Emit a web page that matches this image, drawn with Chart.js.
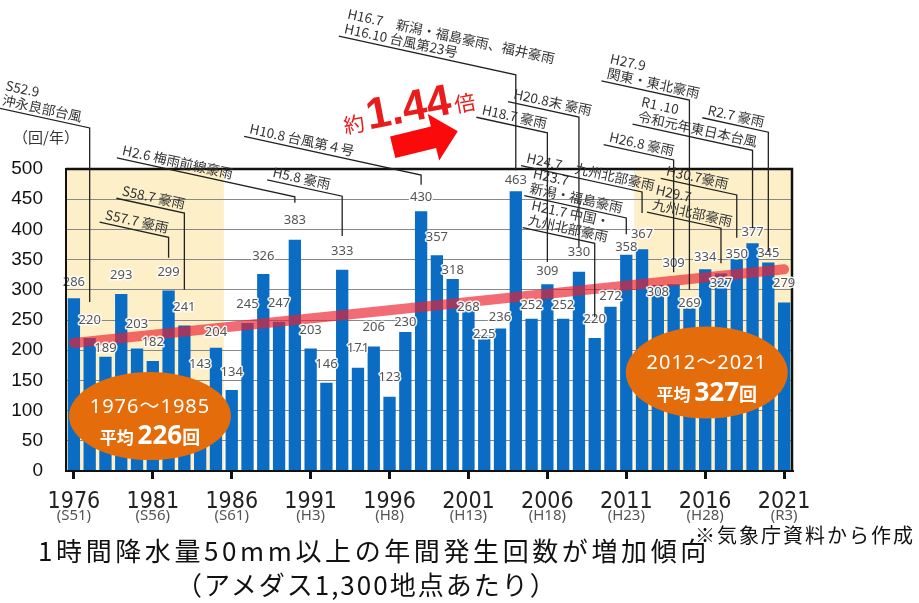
<!DOCTYPE html>
<html>
<head>
<meta charset="utf-8">
<script src="https://cdn.jsdelivr.net/npm/chart.js@4"></script>
<style>
  body { margin: 0; background: #fff; }
  #wrap { position: relative; width: 919px; height: 603px; }
  .txt { position: absolute; font-family: 'Noto Sans CJK JP', sans-serif; color: #111; white-space: nowrap; }
  #title1 { left: 38px; top: 534px; font-size: 26px; line-height: 32px; letter-spacing: 3.6px; }
  #title2 { left: 176px; top: 568px; font-size: 26px; line-height: 32px; letter-spacing: 2px; }
  #source { left: 695px; top: 522px; font-size: 20px; line-height: 26px; letter-spacing: 2px; }
</style>
</head>
<body>
<div id="wrap">
  <canvas id="rainChart"></canvas>
  <div class="txt" id="title1">1時間降水量50mm以上の年間発生回数が増加傾向</div>
  <div class="txt" id="title2">（アメダス1,300地点あたり）</div>
  <div class="txt" id="source">※気象庁資料から作成</div>
</div>
<script>
const years = ['1976', '1977', '1978', '1979', '1980', '1981', '1982', '1983', '1984', '1985',
    '1986', '1987', '1988', '1989', '1990', '1991', '1992', '1993', '1994', '1995',
    '1996', '1997', '1998', '1999', '2000', '2001', '2002', '2003', '2004', '2005',
    '2006', '2007', '2008', '2009', '2010', '2011', '2012', '2013', '2014', '2015',
    '2016', '2017', '2018', '2019', '2020', '2021'];
const eraLabels = ['(S51)', '(S56)', '(S61)', '(H3)', '(H8)', '(H13)', '(H18)', '(H23)', '(H28)', '(R3)'];
const counts = [286, 220, 189, 293, 203, 182, 299, 241, 143, 204,
    134, 245, 326, 247, 383, 203, 146, 333, 171, 206,
    123, 230, 430, 357, 318, 268, 225, 236, 463, 252,
    309, 252, 330, 220, 272, 358, 367, 308, 309, 269,
    334, 327, 350, 377, 345, 279];
const trendEnds = [212, 334];
const averages = [
    { span: '1976～1985', value: '226' },
    { span: '2012～2021', value: '327' }
];

// how far each value label sits above its bar top (px)
const labelLift = [16, 18, 9, 19, 24, 19, 18, 18, 20, 15,
    18, 19, 18, 19, 19, 18, 19, 19, 19, 19,
    19, 10, 14, 18, 9, 2, 1, 11, 11, 13,
    13, 13, 19, 19, 10, 7, 15, -7, 21, 5,
    12, -10, 5, 11, 9, 19];

// event notes: bar index, text lines, leader top / bottom (in y units), underline length
const events = [
    { i: 1, lines: ['S52.9', '沖永良部台風'], top: 568, bottom: 280, dx: 93 },
    { i: 6, lines: ['S57.7 豪雨'], top: 387, bottom: 353, dx: 69 },
    { i: 7, lines: ['S58.7 豪雨'], top: 427, bottom: 300, dx: 68 },
    { i: 14, lines: ['H2.6 梅雨前線豪雨'], top: 454, bottom: 444, dx: 178 },
    { i: 17, lines: ['H5.8 豪雨'], top: 455, bottom: 389, dx: 75 },
    { i: 22, lines: ['H10.8 台風第４号'], top: 490, bottom: 474, dx: 177 },
    { i: 28, lines: ['H16.7　新潟・福島豪雨、福井豪雨', 'H16.10 台風第23号'], top: 656, bottom: 498, dx: 177 },
    { i: 30, lines: ['H18.7 豪雨'], top: 560, bottom: 346, dx: 71 },
    { i: 32, lines: ['H20.8末 豪雨'], top: 586, bottom: 371, dx: 71 },
    { i: 33, lines: ['H21.7 中国・', '九州北部豪雨'], top: 377, bottom: 255, dx: 72 },
    { i: 35, lines: ['H23.7', '新潟・福島豪雨'], top: 419, bottom: 392, dx: 102 },
    { i: 36, lines: ['H24.7　九州北部豪雨'], top: 462, bottom: 427, dx: 121 },
    { i: 38, lines: ['H26.8 豪雨'], top: 515, bottom: 329, dx: 70 },
    { i: 39, lines: ['H27.9', '関東・東北豪雨'], top: 614, bottom: 300, dx: 88 },
    { i: 41, lines: ['H29.7', '九州北部豪雨'], top: 402, bottom: 344, dx: 74 },
    { i: 42, lines: ['H30.7豪雨'], top: 457, bottom: 386, dx: 76 },
    { i: 43, lines: ['R1 .10', '令和元年東日本台風'], top: 531, bottom: 402, dx: 120 },
    { i: 44, lines: ['R2.7 豪雨'], top: 561, bottom: 363, dx: 66 }
];

const trendData = counts.map((v, i) => i === 0 ? trendEnds[0] : (i === counts.length - 1 ? trendEnds[1] : null));
const CJK = "'Noto Sans CJK JP', sans-serif";

const decor = {
    id: 'decor',
    beforeDraw(chart) {
        const { ctx, chartArea: a, scales: { x } } = chart;
        const half = (x.getPixelForValue(1) - x.getPixelForValue(0)) / 2;
        ctx.save();
        ctx.fillStyle = '#fdefc8';
        ctx.fillRect(a.left, a.top, x.getPixelForValue(9) + half - a.left, a.bottom - a.top);
        const r0 = x.getPixelForValue(36) - half;
        ctx.fillRect(r0, a.top, a.right - r0, a.bottom - a.top);
        ctx.restore();
    },
    afterDatasetsDraw(chart) {
        const { ctx, chartArea: a } = chart;
        ctx.save();
        // frame top / right
        ctx.strokeStyle = '#111';
        ctx.lineWidth = 2.5;
        ctx.beginPath();
        ctx.moveTo(a.left, a.top);
        ctx.lineTo(a.right, a.top);
        ctx.lineTo(a.right, a.bottom);
        ctx.stroke();
        // value labels
        const bars = chart.getDatasetMeta(0).data;
        ctx.font = "13px 'Noto Sans', sans-serif";
        ctx.textAlign = 'center';
        ctx.textBaseline = 'middle';
        ctx.lineJoin = 'round';
        bars.forEach((b, i) => {
            const t = String(counts[i]);
            const ly = b.y - labelLift[i];
            ctx.strokeStyle = 'rgba(255,255,255,0.9)';
            ctx.lineWidth = 3;
            ctx.strokeText(t, b.x, ly);
            ctx.fillStyle = '#555';
            ctx.fillText(t, b.x, ly);
        });
        ctx.restore();
    },
    afterDraw(chart) {
        const { ctx, chartArea: a, scales: { x, y } } = chart;
        ctx.save();

        // era names under the year ticks
        ctx.fillStyle = '#555';
        ctx.font = "15px 'Noto Sans', sans-serif";
        ctx.textAlign = 'center';
        ctx.textBaseline = 'middle';
        eraLabels.forEach((t, k) => {
            ctx.fillText(t, x.getPixelForValue(k * 5), a.bottom + 45);
        });

        // y-axis unit
        ctx.fillStyle = '#333';
        ctx.font = '15px ' + CJK;
        ctx.fillText('（回/年）', 46, y.getPixelForValue(553));

        // average bubbles
        const bubbles = [
            { cx: x.getPixelForValue(4.82), cy: y.getPixelForValue(91), ry: 44 },
            { cx: x.getPixelForValue(40.1), cy: y.getPixelForValue(163), ry: 46 }
        ];
        bubbles.forEach((b, k) => {
            ctx.fillStyle = '#e46c0a';
            ctx.beginPath();
            ctx.ellipse(b.cx, b.cy, 81, b.ry, 0, 0, Math.PI * 2);
            ctx.fill();
            ctx.fillStyle = '#fff';
            ctx.textAlign = 'center';
            ctx.textBaseline = 'middle';
            ctx.font = "20px 'Noto Sans', " + CJK;
            ctx.letterSpacing = '1px';
            ctx.fillText(averages[k].span, b.cx, b.cy - 9);
            ctx.letterSpacing = '0px';
            const parts = [
                ['平均 ', 'bold 17px ' + CJK],
                [averages[k].value, "bold 26px 'Noto Sans', sans-serif"],
                ['回', 'bold 18px ' + CJK]
            ];
            let w = 0;
            parts.forEach(p => { ctx.font = p[1]; w += ctx.measureText(p[0]).width; });
            let px = b.cx - w / 2;
            ctx.textAlign = 'left';
            ctx.textBaseline = 'alphabetic';
            parts.forEach(p => {
                ctx.font = p[1];
                ctx.fillText(p[0], px, b.cy + 28);
                px += ctx.measureText(p[0]).width;
            });
        });

        // event notes
        const ang = 0.215;
        ctx.lineWidth = 1.3;
        ctx.strokeStyle = '#222';
        events.forEach(ev => {
            const bx = x.getPixelForValue(ev.i);
            const ty = y.getPixelForValue(ev.top);
            const by = y.getPixelForValue(ev.bottom);
            const sx = bx - ev.dx;
            const sy = ty - ev.dx * Math.tan(ang);
            ctx.beginPath();
            ctx.moveTo(sx, sy);
            ctx.lineTo(bx, ty);
            ctx.lineTo(bx, by);
            ctx.stroke();
            ctx.save();
            ctx.translate(sx, sy);
            ctx.rotate(ang);
            ctx.fillStyle = '#333';
            ctx.font = '13.5px ' + CJK;
            ctx.textAlign = 'left';
            ctx.textBaseline = 'alphabetic';
            ev.lines.forEach((t, k) => {
                const n = ev.lines.length - 1 - k;
                ctx.fillText(t, 4, -4 - n * 15);
            });
            ctx.restore();
        });

        // 約1.44倍 with arrow
        ctx.save();
        ctx.translate(x.getPixelForValue(20.2), y.getPixelForValue(536));
        ctx.rotate(-0.24);
        ctx.fillStyle = '#fa0a0a';
        ctx.beginPath();
        ctx.moveTo(0, -11);
        ctx.lineTo(42, -11);
        ctx.lineTo(42, -24);
        ctx.lineTo(67, 0);
        ctx.lineTo(42, 24);
        ctx.lineTo(42, 11);
        ctx.lineTo(0, 11);
        ctx.closePath();
        ctx.fill();
        ctx.restore();

        ctx.save();
        ctx.translate(x.getPixelForValue(17.2), y.getPixelForValue(558));
        ctx.rotate(-0.19);
        ctx.fillStyle = '#ea1b1b';
        ctx.textAlign = 'left';
        ctx.textBaseline = 'alphabetic';
        let tx = 0;
        [['約', '21px ' + CJK], ['1.44', "bold 44px 'Liberation Sans', sans-serif"], ['倍', '21px ' + CJK]].forEach(p => {
            ctx.font = p[1];
            ctx.fillText(p[0], tx, 0);
            tx += ctx.measureText(p[0]).width + 3;
        });
        ctx.restore();

        ctx.restore();
    }
};

new Chart(document.getElementById('rainChart'), {
    type: 'bar',
    data: {
        labels: years,
        datasets: [{
            label: '発生回数',
            data: counts,
            backgroundColor: '#0a6cc3',
            barPercentage: 0.78,
            categoryPercentage: 1,
            order: 2
        }, {
            type: 'line',
            label: 'trend',
            data: trendData,
            spanGaps: true,
            borderColor: 'rgba(236,32,46,0.66)',
            borderWidth: 10,
            borderCapStyle: 'round',
            pointRadius: 0,
            order: 1
        }]
    },
    options: {
        responsive: true,
        maintainAspectRatio: false,
        animation: false,
        layout: { padding: { top: 169, right: 127, bottom: 88, left: 0 } },
        plugins: { legend: { display: false }, tooltip: { enabled: false } },
        scales: {
            x: {
                offset: true,
                grid: {
                    offset: false,
                    drawOnChartArea: false,
                    tickLength: 8,
                    lineWidth: 3,
                    color: c => c.index % 5 === 0 ? '#111' : 'rgba(0,0,0,0)'
                },
                border: { color: '#111', width: 2, z: 1 },
                ticks: {
                    autoSkip: false,
                    maxRotation: 0,
                    minRotation: 0,
                    padding: 9,
                    color: '#222',
                    font: { family: "'Liberation Sans Narrow', 'Arial Narrow', 'DejaVu Sans Condensed', sans-serif", size: 23 },
                    callback: (v, i) => i % 5 === 0 ? years[i] : ''
                },
                afterFit: s => { s.height = 44; }
            },
            y: {
                min: 0,
                max: 500,
                ticks: {
                    stepSize: 50,
                    padding: 23,
                    color: '#111',
                    font: { family: "'Liberation Sans', Arial, sans-serif", size: 19 }
                },
                grid: { color: '#888', lineWidth: 1, drawTicks: false },
                border: { color: '#111', width: 2, z: 1 },
                afterFit: s => { s.width = 66; }
            }
        }
    },
    plugins: [decor]
});
</script>
</body>
</html>
